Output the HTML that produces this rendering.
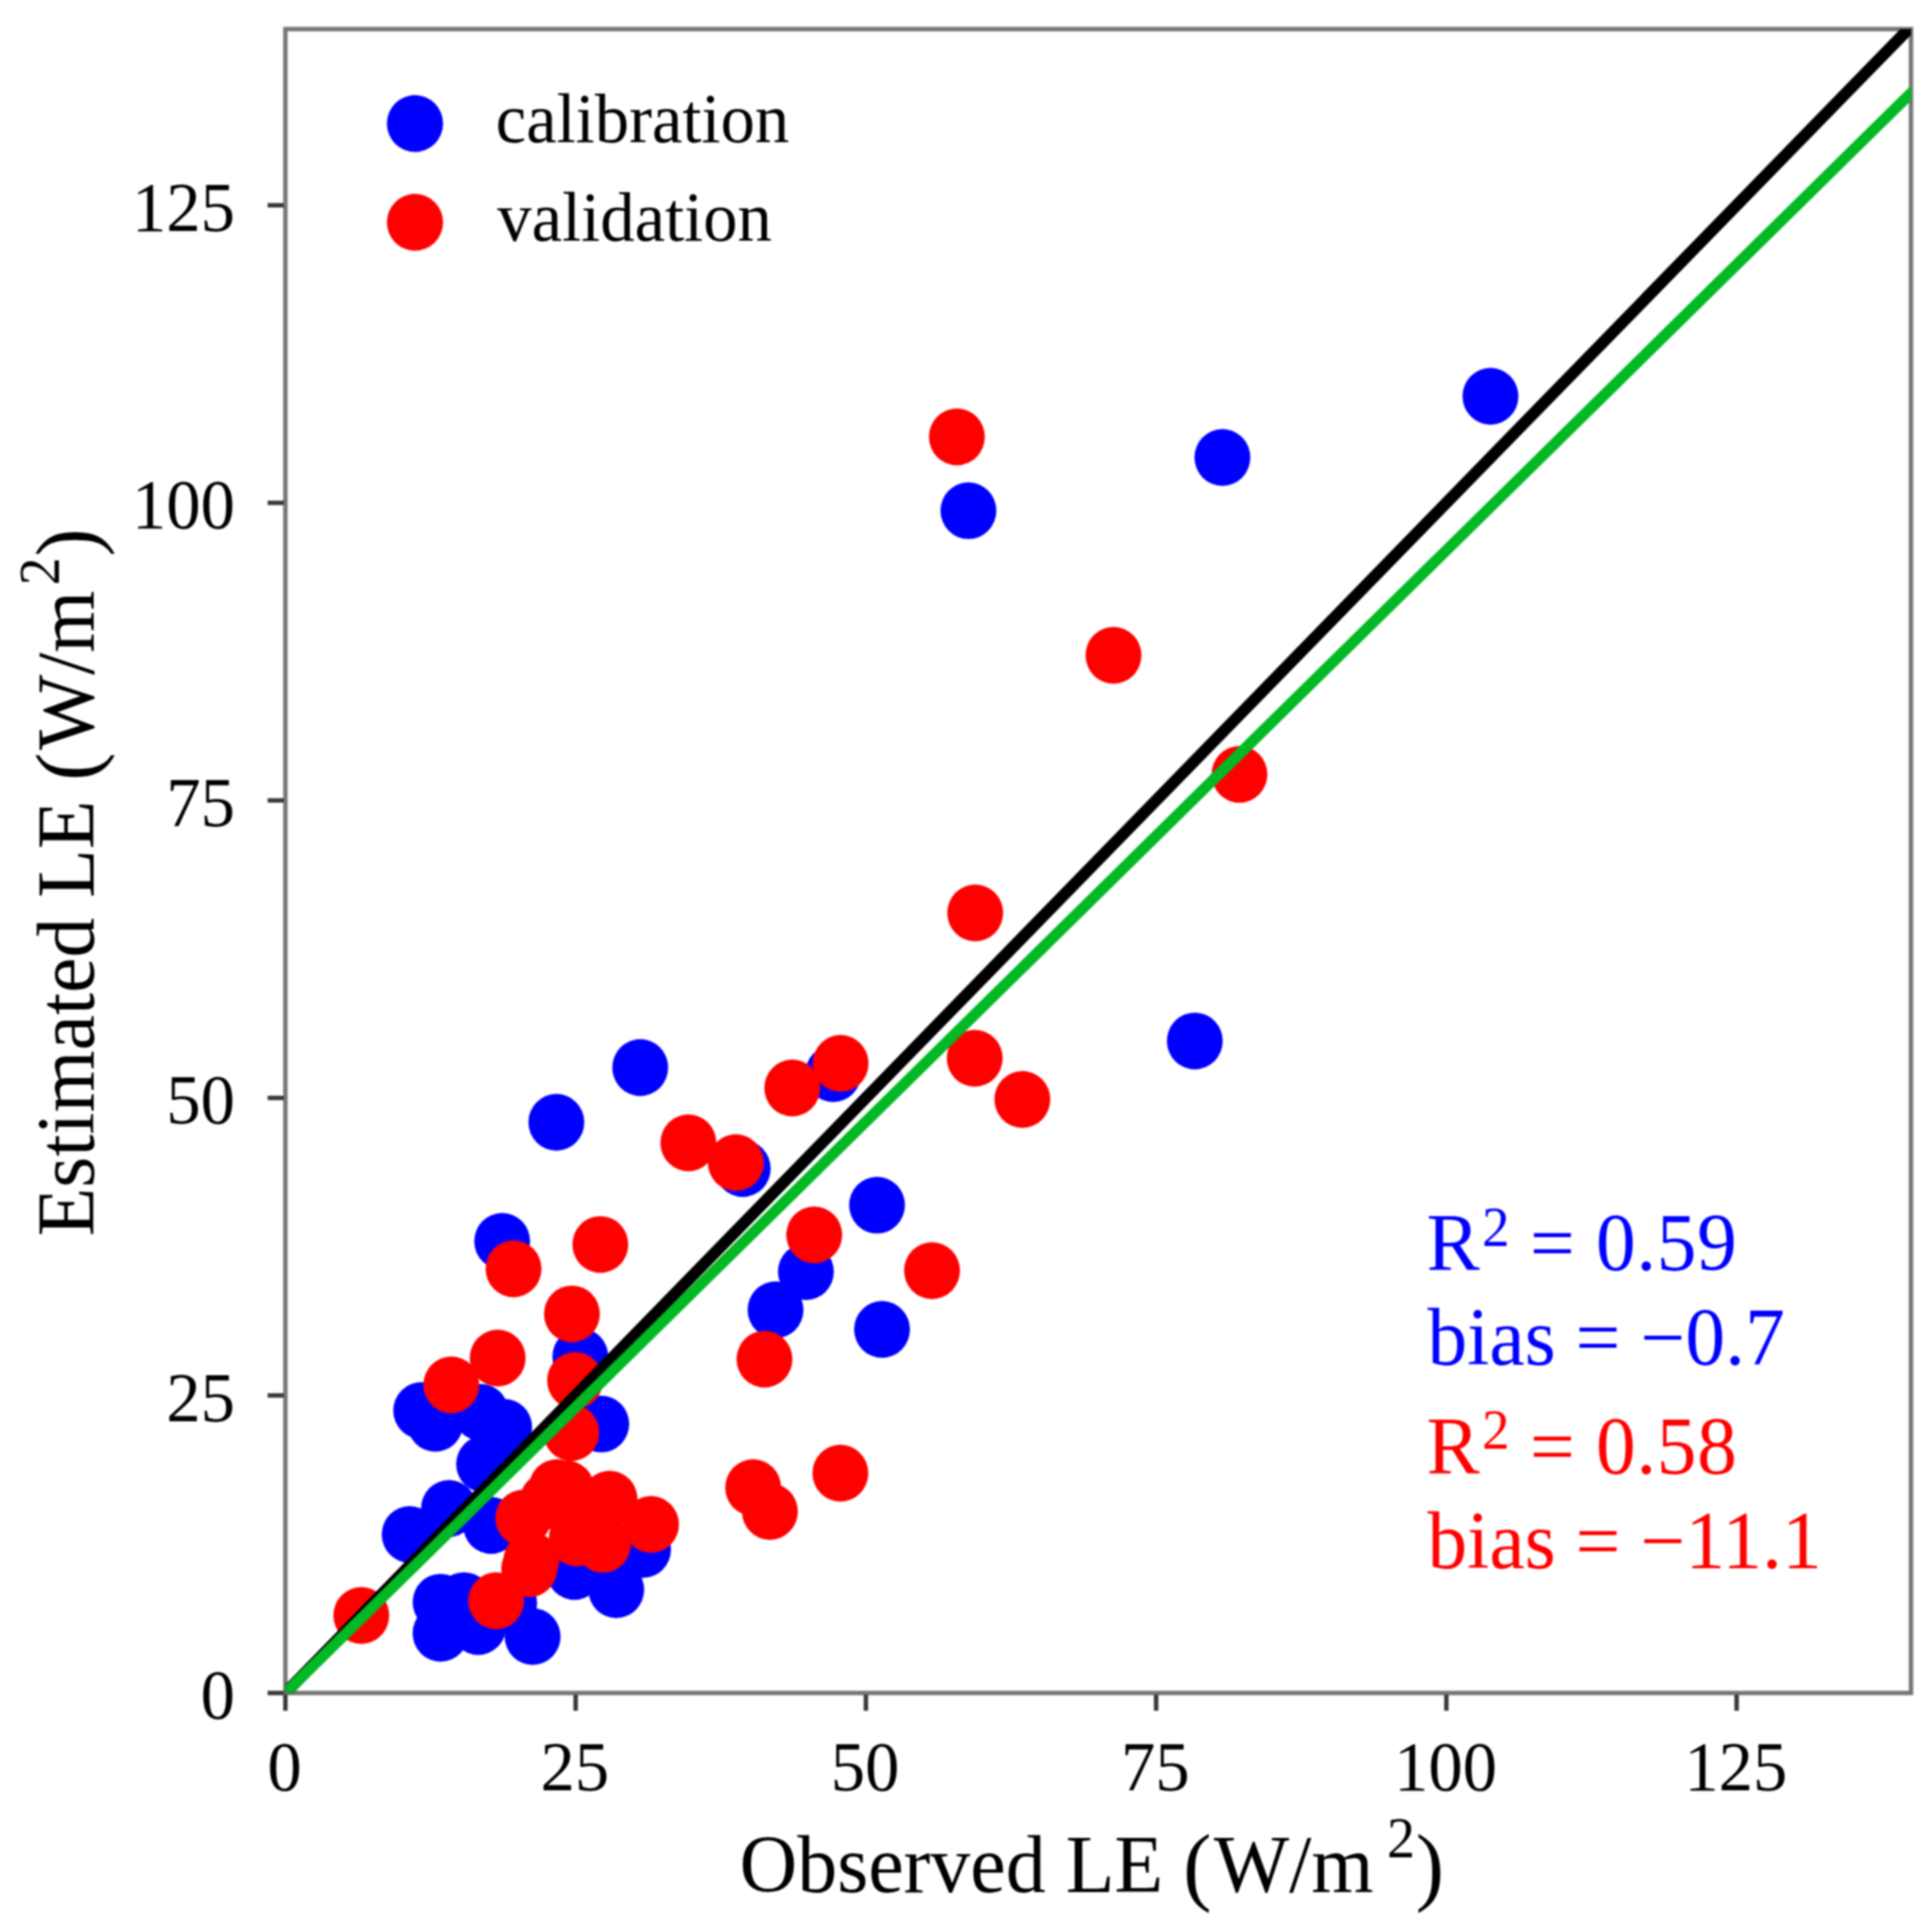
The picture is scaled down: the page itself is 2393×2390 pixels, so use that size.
<!DOCTYPE html>
<html lang="en"><head><meta charset="utf-8"><title>Observed vs Estimated LE</title>
<style>html,body{margin:0;padding:0;background:#fff}svg{display:block;filter:blur(1.2px)}text{font-family:"Liberation Serif","Times New Roman",serif}</style></head><body>
<svg width="2393" height="2390" viewBox="0 0 2393 2390">
<rect width="2393" height="2390" fill="#fff"/>
<defs><clipPath id="panel"><rect x="353.5" y="36.0" width="2013.5" height="2060.5"/></clipPath></defs>
<g fill="#0000ff">
<ellipse cx="521.7" cy="1746.8" rx="34.6" ry="35.2"/>
<ellipse cx="539.1" cy="1762.6" rx="34.6" ry="35.2"/>
<ellipse cx="595.4" cy="1748.9" rx="34.6" ry="35.2"/>
<ellipse cx="624.5" cy="1767.5" rx="34.6" ry="35.2"/>
<ellipse cx="599.6" cy="1813.1" rx="34.6" ry="35.2"/>
<ellipse cx="556.1" cy="1867.9" rx="34.6" ry="35.2"/>
<ellipse cx="507.4" cy="1900.2" rx="34.6" ry="35.2"/>
<ellipse cx="608.3" cy="1889.0" rx="34.6" ry="35.2"/>
<ellipse cx="744.7" cy="1763.4" rx="34.6" ry="35.2"/>
<ellipse cx="545.7" cy="1984.1" rx="34.6" ry="35.2"/>
<ellipse cx="574.7" cy="1982.1" rx="34.6" ry="35.2"/>
<ellipse cx="545.7" cy="2022.5" rx="34.6" ry="35.2"/>
<ellipse cx="592.3" cy="2014.2" rx="34.6" ry="35.2"/>
<ellipse cx="659.7" cy="2026.6" rx="34.6" ry="35.2"/>
<ellipse cx="630.7" cy="1985.2" rx="34.6" ry="35.2"/>
<ellipse cx="711.5" cy="1946.0" rx="34.6" ry="35.2"/>
<ellipse cx="763.3" cy="1968.6" rx="34.6" ry="35.2"/>
<ellipse cx="796.5" cy="1918.8" rx="34.6" ry="35.2"/>
<ellipse cx="689.1" cy="1389.8" rx="34.6" ry="35.2"/>
<ellipse cx="622.0" cy="1537.2" rx="34.6" ry="35.2"/>
<ellipse cx="718.8" cy="1680.0" rx="34.6" ry="35.2"/>
<ellipse cx="793.0" cy="1322.0" rx="34.6" ry="35.2"/>
<ellipse cx="1032.0" cy="1329.5" rx="34.6" ry="35.2"/>
<ellipse cx="920.0" cy="1447.1" rx="34.6" ry="35.2"/>
<ellipse cx="1086.3" cy="1492.4" rx="34.6" ry="35.2"/>
<ellipse cx="998.2" cy="1574.8" rx="34.6" ry="35.2"/>
<ellipse cx="960.6" cy="1622.0" rx="34.6" ry="35.2"/>
<ellipse cx="1092.5" cy="1646.3" rx="34.6" ry="35.2"/>
<ellipse cx="1479.9" cy="1289.1" rx="34.6" ry="35.2"/>
<ellipse cx="1199.5" cy="632.4" rx="34.6" ry="35.2"/>
<ellipse cx="1514.1" cy="566.5" rx="34.6" ry="35.2"/>
<ellipse cx="1846.1" cy="490.7" rx="34.6" ry="35.2"/>
</g>
<g fill="#ff0000">
<ellipse cx="559.0" cy="1714.9" rx="34.6" ry="35.2"/>
<ellipse cx="616.4" cy="1681.7" rx="34.6" ry="35.2"/>
<ellipse cx="712.3" cy="1709.5" rx="34.6" ry="35.2"/>
<ellipse cx="707.6" cy="1774.0" rx="34.6" ry="35.2"/>
<ellipse cx="689.7" cy="1842.2" rx="34.6" ry="35.2"/>
<ellipse cx="755.0" cy="1856.5" rx="34.6" ry="35.2"/>
<ellipse cx="806.4" cy="1887.8" rx="34.6" ry="35.2"/>
<ellipse cx="648.1" cy="1879.9" rx="34.6" ry="35.2"/>
<ellipse cx="746.7" cy="1912.4" rx="34.6" ry="35.2"/>
<ellipse cx="655.5" cy="1942.7" rx="34.6" ry="35.2"/>
<ellipse cx="614.5" cy="1982.3" rx="34.6" ry="35.2"/>
<ellipse cx="714.5" cy="1904.5" rx="34.6" ry="35.2"/>
<ellipse cx="658.1" cy="1932.4" rx="34.6" ry="35.2"/>
<ellipse cx="678.3" cy="1858.7" rx="34.6" ry="35.2"/>
<ellipse cx="701.6" cy="1843.7" rx="34.6" ry="35.2"/>
<ellipse cx="447.5" cy="2000.5" rx="34.6" ry="35.2"/>
<ellipse cx="636.1" cy="1571.2" rx="34.6" ry="35.2"/>
<ellipse cx="743.6" cy="1541.1" rx="34.6" ry="35.2"/>
<ellipse cx="708.4" cy="1627.1" rx="34.6" ry="35.2"/>
<ellipse cx="981.3" cy="1347.3" rx="34.6" ry="35.2"/>
<ellipse cx="1041.2" cy="1316.8" rx="34.6" ry="35.2"/>
<ellipse cx="852.6" cy="1415.2" rx="34.6" ry="35.2"/>
<ellipse cx="911.4" cy="1439.8" rx="34.6" ry="35.2"/>
<ellipse cx="1008.5" cy="1529.2" rx="34.6" ry="35.2"/>
<ellipse cx="946.9" cy="1683.1" rx="34.6" ry="35.2"/>
<ellipse cx="1154.4" cy="1573.5" rx="34.6" ry="35.2"/>
<ellipse cx="1207.3" cy="1310.5" rx="34.6" ry="35.2"/>
<ellipse cx="1266.3" cy="1361.5" rx="34.6" ry="35.2"/>
<ellipse cx="1040.9" cy="1824.3" rx="34.6" ry="35.2"/>
<ellipse cx="932.9" cy="1842.2" rx="34.6" ry="35.2"/>
<ellipse cx="953.6" cy="1871.7" rx="34.6" ry="35.2"/>
<ellipse cx="1535.2" cy="958.9" rx="34.6" ry="35.2"/>
<ellipse cx="1207.9" cy="1130.5" rx="34.6" ry="35.2"/>
<ellipse cx="1185.2" cy="541.0" rx="34.6" ry="35.2"/>
<ellipse cx="1379.2" cy="811.5" rx="34.6" ry="35.2"/>
</g>
<rect x="353.5" y="36.0" width="2013.5" height="2060.5" fill="none" stroke="#777" stroke-width="5.5"/>
<g clip-path="url(#panel)" fill="none" stroke-linecap="butt">
<line x1="152.2" y1="2302.8" x2="2568.0" y2="-173.2" stroke="#000" stroke-width="14.5"/>
<line x1="152.2" y1="2294.6" x2="2568.0" y2="-82.6" stroke="#02b824" stroke-width="13.6"/>
</g>
<g stroke="#383838" stroke-width="5.5">
<line x1="353.5" y1="2098.5" x2="353.5" y2="2118.5"/>
<line x1="351.5" y1="2096.5" x2="331.5" y2="2096.5"/>
<line x1="713.0" y1="2098.5" x2="713.0" y2="2118.5"/>
<line x1="351.5" y1="1728.0" x2="331.5" y2="1728.0"/>
<line x1="1072.5" y1="2098.5" x2="1072.5" y2="2118.5"/>
<line x1="351.5" y1="1359.6" x2="331.5" y2="1359.6"/>
<line x1="1432.0" y1="2098.5" x2="1432.0" y2="2118.5"/>
<line x1="351.5" y1="991.2" x2="331.5" y2="991.2"/>
<line x1="1791.5" y1="2098.5" x2="1791.5" y2="2118.5"/>
<line x1="351.5" y1="622.7" x2="331.5" y2="622.7"/>
<line x1="2151.0" y1="2098.5" x2="2151.0" y2="2118.5"/>
<line x1="351.5" y1="254.2" x2="331.5" y2="254.2"/>
</g>
<text transform="translate(352.5,2217.0) scale(0.977,1)" font-size="87" fill="#000" text-anchor="middle">0</text>
<text transform="translate(291.0,2128.0) scale(0.977,1)" font-size="87" fill="#000" text-anchor="end">0</text>
<text transform="translate(712.0,2217.0) scale(0.977,1)" font-size="87" fill="#000" text-anchor="middle">25</text>
<text transform="translate(291.0,1759.5) scale(0.977,1)" font-size="87" fill="#000" text-anchor="end">25</text>
<text transform="translate(1071.5,2217.0) scale(0.977,1)" font-size="87" fill="#000" text-anchor="middle">50</text>
<text transform="translate(291.0,1391.1) scale(0.977,1)" font-size="87" fill="#000" text-anchor="end">50</text>
<text transform="translate(1431.0,2217.0) scale(0.977,1)" font-size="87" fill="#000" text-anchor="middle">75</text>
<text transform="translate(291.0,1022.7) scale(0.977,1)" font-size="87" fill="#000" text-anchor="end">75</text>
<text transform="translate(1790.5,2217.0) scale(0.977,1)" font-size="87" fill="#000" text-anchor="middle">100</text>
<text transform="translate(291.0,654.2) scale(0.977,1)" font-size="87" fill="#000" text-anchor="end">100</text>
<text transform="translate(2150.0,2217.0) scale(0.977,1)" font-size="87" fill="#000" text-anchor="middle">125</text>
<text transform="translate(291.0,285.8) scale(0.977,1)" font-size="87" fill="#000" text-anchor="end">125</text>
<ellipse cx="514" cy="153" rx="34.8" ry="35.2" fill="#0000ff"/><ellipse cx="514" cy="275.3" rx="34.8" ry="35.2" fill="#ff0000"/>
<text transform="translate(614.0,176.0) scale(0.977,1)" font-size="87" fill="#000" text-anchor="start">calibration</text>
<text transform="translate(616.0,297.5) scale(0.977,1)" font-size="87" fill="#000" text-anchor="start">validation</text>
<text id="xl" transform="translate(916.0,2343.0) scale(0.975,1)" font-size="101.5" fill="#000" text-anchor="start">Observed LE <tspan font-size="108" dy="3">(</tspan><tspan dy="-3" dx="3">W/m</tspan><tspan dx="17" dy="-43.5" font-size="71">2</tspan><tspan dy="46.5" dx="1" font-size="108">)</tspan></text>
<text id="yl" transform="translate(116,1531) rotate(-90) scale(0.972,1)" font-size="101.5" fill="#000">Estimated LE <tspan font-size="108" dy="3">(</tspan><tspan dy="-3" dx="3">W/m</tspan><tspan dx="7" dy="-43.5" font-size="71">2</tspan><tspan dy="46.5" dx="1" font-size="108">)</tspan></text>
<text id="a1" transform="translate(1767.0,1573.0) scale(0.972,1)" font-size="101.5" fill="#0000ff" text-anchor="start">R<tspan dx="3" dy="-30.5" font-size="70">2</tspan><tspan dy="30.5" letter-spacing="0.7"> = 0.59</tspan></text>
<text id="a2" transform="translate(1768.0,1690.0) scale(0.972,1)" font-size="101.5" fill="#0000ff" text-anchor="start">bias = −0.7</text>
<text id="a3" transform="translate(1767.0,1824.5) scale(0.972,1)" font-size="101.5" fill="#ff0000" text-anchor="start">R<tspan dx="3" dy="-30.5" font-size="70">2</tspan><tspan dy="30.5" letter-spacing="0.7"> = 0.58</tspan></text>
<text id="a4" transform="translate(1768.0,1941.5) scale(0.972,1)" font-size="101.5" fill="#ff0000" text-anchor="start">bias = −11.1</text>
</svg></body></html>
